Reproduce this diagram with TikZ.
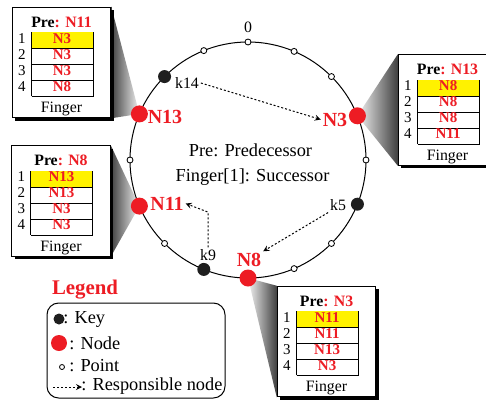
\documentclass[tikz,border=0pt]{standalone}
\usepackage{fontspec}
\setmainfont{Liberation Serif}
\usepackage{array}
\usepackage{colortbl}
\usetikzlibrary{shadows,backgrounds}
\definecolor{nred}{RGB}{237,28,36}
\definecolor{fyellow}{RGB}{255,242,0}
\newcommand{\Nd}[1]{\textcolor{nred}{\textbf{#1}}}
\newcommand{\Ftab}[5]{{\fontsize{9}{10}\selectfont
\setlength{\tabcolsep}{0pt}\setlength{\arrayrulewidth}{0.6pt}%
\renewcommand{\arraystretch}{0.96}%
\begin{tabular}{@{\hspace{3.5pt}}r@{\hspace{3pt}}|>{\centering\arraybackslash}p{36.6pt}|@{}p{10.3pt}@{}}
\multicolumn{3}{@{}c@{}}{\rule[-3pt]{0pt}{15pt}\fontsize{9.5}{10}\selectfont\textbf{Pre\textcolor{nred}{: #1}}}\\ \cline{2-2}
1 & \cellcolor{fyellow}\Nd{#2} & \\ \cline{2-2}
2 & \Nd{#3} & \\ \cline{2-2}
3 & \Nd{#4} & \\ \cline{2-2}
4 & \Nd{#5} & \\ \cline{2-2}
\multicolumn{3}{@{}c@{}}{\rule[-2.9pt]{0pt}{12.9pt}\fontsize{9.5}{10}\selectfont Finger}
\end{tabular}}}

\begin{document}
\begin{tikzpicture}
[x=0.6pt,y=-0.6pt,
 pointdot/.style={circle,draw,fill=white,line width=0.5pt,inner sep=0pt,minimum size=3.6pt},
 keydot/.style={circle,fill=black!88,inner sep=0pt,minimum size=7.8pt},
 nodedot/.style={circle,fill=nred,inner sep=0pt,minimum size=10.2pt},
 klbl/.style={font=\fontsize{9.5}{11}\selectfont,inner sep=1pt},
 nlbl/.style={font=\fontsize{12}{14}\selectfont\bfseries,text=nred,inner sep=1pt},
 ftab/.style={draw,line width=0.6pt,fill=white,inner sep=0pt,
   drop shadow={shadow xshift=1.8pt,shadow yshift=-1.8pt,fill=black,opacity=1}},
 resp/.style={->,>=stealth,line width=0.6pt,dash pattern=on 1.2pt off 1.2pt},
 legtxt/.style={anchor=west,inner sep=0pt,font=\fontsize{11}{13}\selectfont}]
\useasboundingbox (0,0) rectangle (486,399);
% The ring and its positions
\node[draw,circle,line width=0.6pt,inner sep=0pt,outer sep=0pt,minimum size=141.6pt] (ring) at (248,160) {};

\node[pointdot] (p0)  at (ring.90)     {};
\node[pointdot] (p1)  at (ring.67.5)   {};
\node[pointdot] (p2)  at (ring.45)     {};
\node[nodedot]  (n3)  at (ring.22.5)   {};
\node[pointdot] (p4)  at (ring.0)      {};
\node[keydot]   (k5)  at (ring.-22.5)  {};
\node[pointdot] (p6)  at (ring.-45)    {};
\node[pointdot] (p7)  at (ring.-67.5)  {};
\node[nodedot]  (n8)  at (ring.-90)    {};
\node[keydot]   (k9)  at (ring.-112.5) {};
\node[pointdot] (p10) at (ring.-135)   {};
\node[nodedot]  (n11) at (ring.-157.5) {};
\node[pointdot] (p12) at (ring.180)    {};
\node[nodedot]  (n13) at (ring.157.5)  {};
\node[keydot]   (k14) at (ring.135)    {};
\node[pointdot] (p15) at (ring.112.5)  {};

\node[klbl] (l0)  at (248,27)  {0};
\node[klbl] (l14) at (187,83)  {k14};
\node[klbl] (l5)  at (338,205) {k5};
\node[klbl] (l9)  at (208,255) {k9};
\node[nlbl] (ln13) at (165,117)   {N13};
\node[nlbl] (ln3)  at (335,119.5) {N3};
\node[nlbl] (ln11) at (167,203.5) {N11};
\node[nlbl] (ln8)  at (249,260)   {N8};

\node[font=\fontsize{11}{13}\selectfont] (dpre) at (250.5,150.5) {Pre: Predecessor};
\node[font=\fontsize{11}{13}\selectfont] (dfin) at (252.5,177.5) {Finger[1]: Successor};

% Finger tables
\node[ftab] (t13) at (61.5,62.5)   {\Ftab{N11}{N3}{N3}{N3}{N8}};
\node[ftab] (t11) at (61,201)      {\Ftab{N8}{N13}{N13}{N3}{N3}};
\node[ftab] (t3)  at (447.5,110)   {\Ftab{N13}{N8}{N8}{N8}{N11}};
\node[ftab] (t8)  at (326.5,341.5) {\Ftab{N3}{N11}{N11}{N13}{N3}};

\begin{pgfonlayer}{background}
\shade[left color=black!75,right color=black!5] (t13.north east) -- (n13.center) -- (t13.south east) -- cycle;
\shade[left color=black!75,right color=black!5] (t11.north east) -- (n11.center) -- (t11.south east) -- cycle;
\shade[left color=black!5,right color=black!75] (t3.north west) -- (n3.center) -- (t3.south west) -- cycle;
\shade[left color=black!5,right color=black!75] (n8.center) -- (t8.north west) -- (t8.south west) -- cycle;
\end{pgfonlayer}

\draw[resp] (l14.east) to (ln3.west);
\draw[resp] (l5.south west) to (ln8.north east);
\draw[resp] (l9.north) -- (l9.north |- ln11.south) -- (ln11.east);

% Legend
\node[font=\fontsize{12.5}{15}\selectfont\bfseries,text=nred] (leg) at (85,290) {Legend};
\node[draw,rounded corners=7pt,line width=0.6pt,minimum width=106.8pt,minimum height=57pt] (legbox) at (136,350.5) {};
\node[keydot,minimum size=6.6pt] (lk) at (59,319) {};
\node[legtxt] (lkt) at (63,319) {: Key};
\node[nodedot,minimum size=9.6pt] (ln) at (59,343) {};
\node[legtxt] (lnt) at (69,343) {: Node};
\node[pointdot,minimum size=3pt] (lp) at (62,367) {};
\node[legtxt] (lpt) at (69,366) {: Point};
\coordinate (ra) at (53,387);
\coordinate (rb) at (82,387);
\draw[resp] (ra) -- (rb);
\node[legtxt] (lrt) at (81,386) {: Responsible node};
\end{tikzpicture}
\end{document}
